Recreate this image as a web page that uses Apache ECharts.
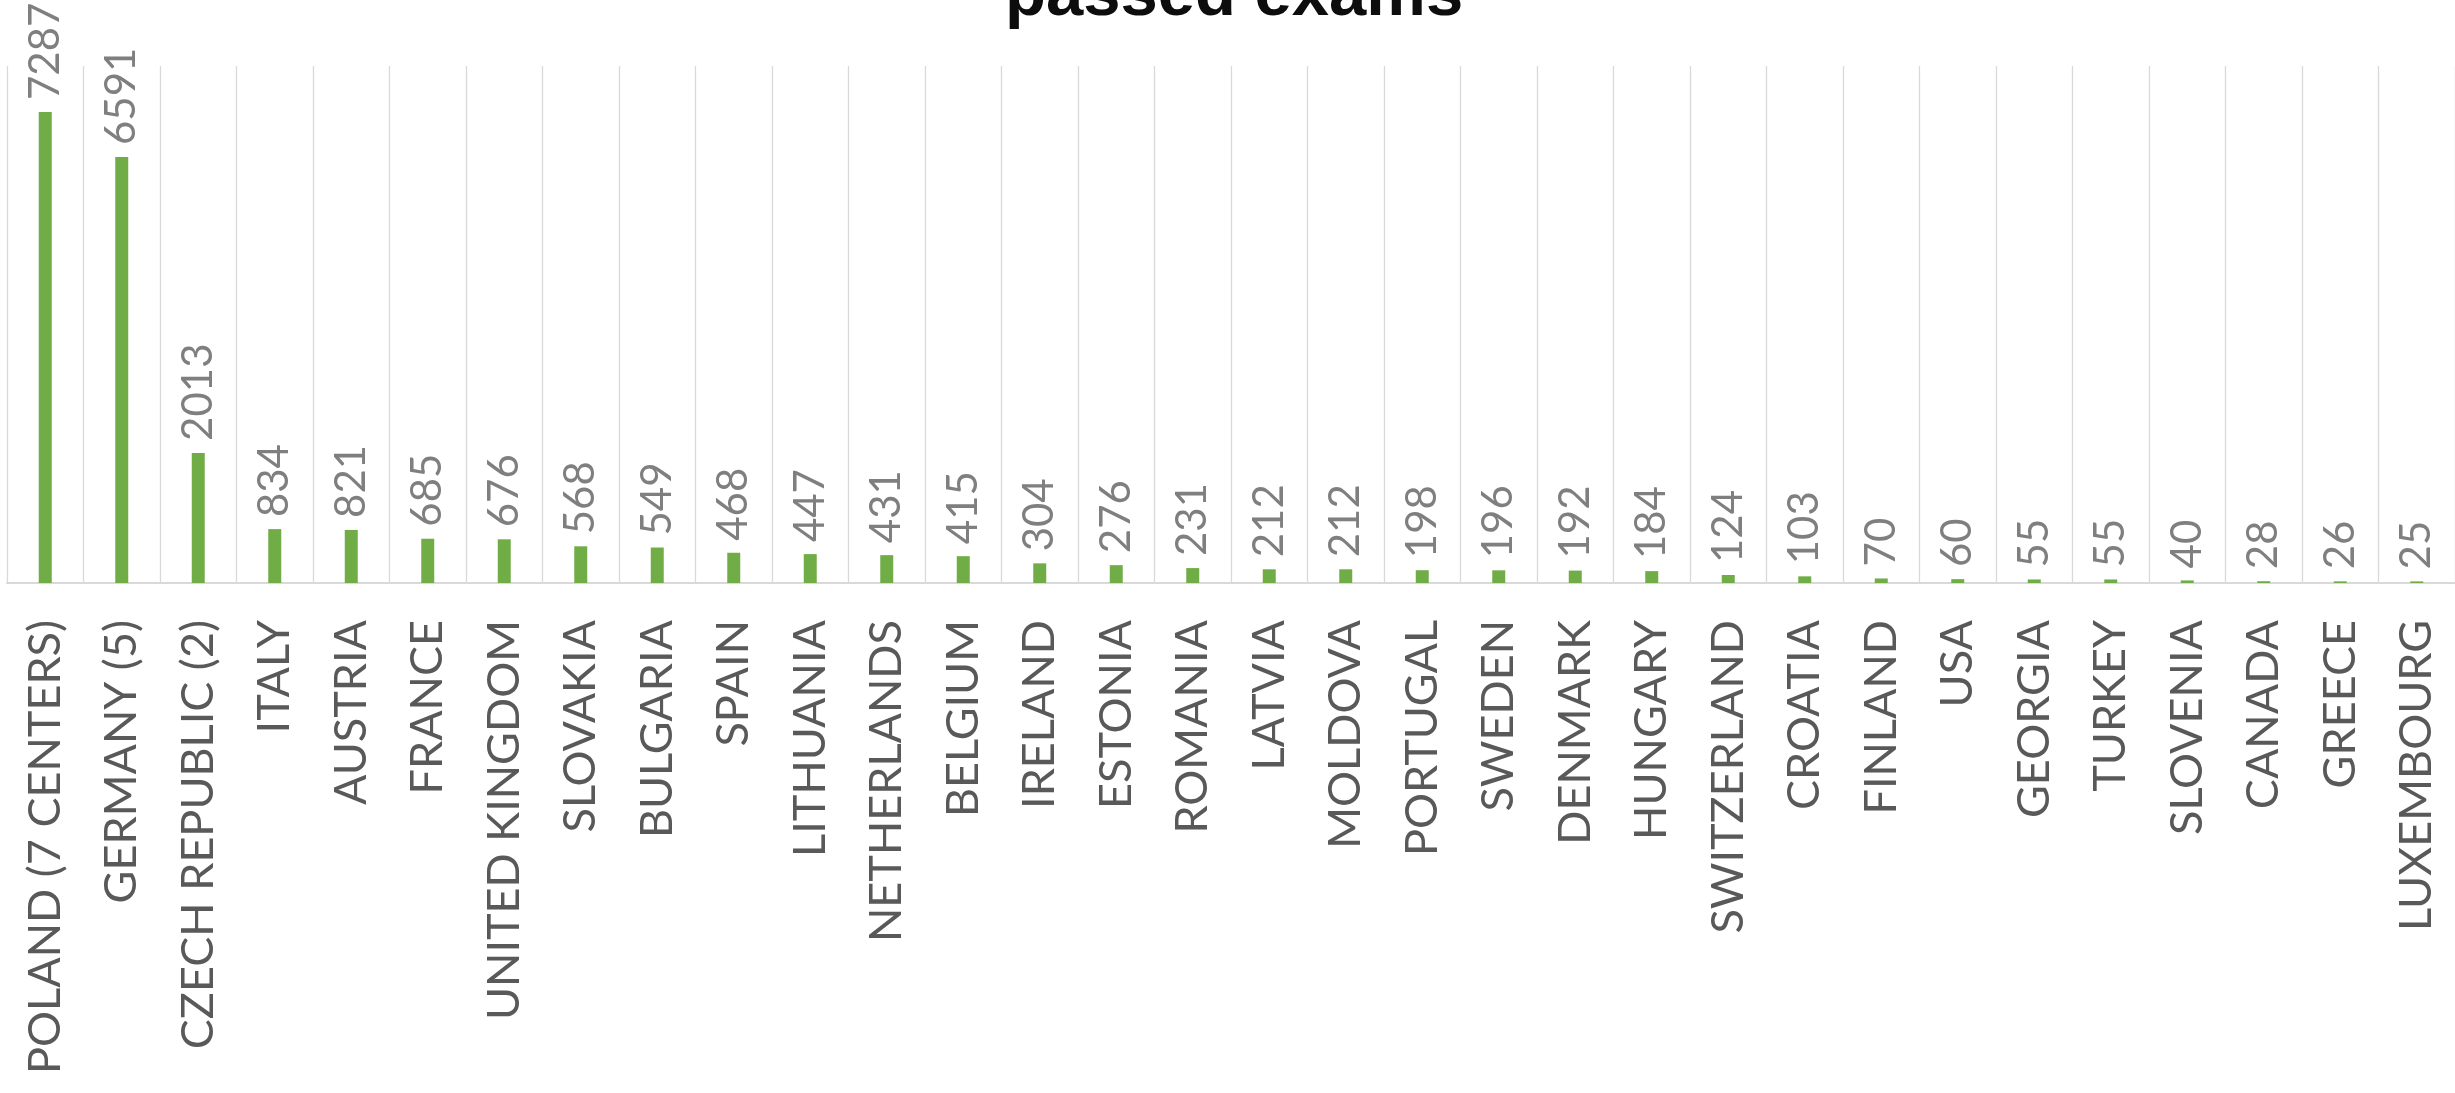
<!DOCTYPE html>
<html>
<head>
<meta charset="utf-8">
<script src="https://cdn.jsdelivr.net/npm/echarts@6/dist/echarts.min.js"></script>
<style>
html,body{margin:0;padding:0;background:#fff;}
#chart{width:2455px;height:1093px;}
</style>
</head>
<body>
<div id="chart"></div>
<script>
var titleText = 'passed exams';
var countries = ['POLAND (7 CENTERS)','GERMANY (5)','CZECH REPUBLIC (2)','ITALY','AUSTRIA','FRANCE','UNITED KINGDOM','SLOVAKIA','BULGARIA','SPAIN','LITHUANIA','NETHERLANDS','BELGIUM','IRELAND','ESTONIA','ROMANIA','LATVIA','MOLDOVA','PORTUGAL','SWEDEN','DENMARK','HUNGARY','SWITZERLAND','CROATIA','FINLAND','USA','GEORGIA','TURKEY','SLOVENIA','CANADA','GREECE','LUXEMBOURG'];
var passedExams = [7287,6591,2013,834,821,685,676,568,549,468,447,431,415,304,276,231,212,212,198,196,192,184,124,103,70,60,55,55,40,28,26,25];

var chart = echarts.init(document.getElementById('chart'), null, {renderer:'canvas'});
chart.setOption({
  animation: false,
  backgroundColor: '#ffffff',
  title: {
    text: titleText,
    left: 1005,
    top: -37,
    padding: 0,
    textStyle: {fontFamily: '"Liberation Sans", Arial, sans-serif', fontWeight: 'bold', fontSize: 67, color: '#0d0d0d'}
  },
  grid: {left: 7, top: 66, width: 2456, height: 517, containLabel: false},
  xAxis: {
    type: 'category',
    data: countries,
    boundaryGap: true,
    axisLine: {show: true, lineStyle: {color: '#d9d9d9', width: 2}},
    axisTick: {show: false},
    splitLine: {show: true, interval: 0, lineStyle: {color: '#d9d9d9', width: 1.3}},
    axisLabel: {
      interval: 0,
      rotate: 90,
      margin: 37,
      color: '#595959',
      fontFamily: 'Lato, sans-serif',
      fontSize: 45
    }
  },
  yAxis: {
    type: 'value',
    min: 0,
    max: 8000,
    show: false,
    splitLine: {show: false}
  },
  series: [{
    type: 'bar',
    data: passedExams,
    barWidth: 13,
    itemStyle: {color: '#70ad47'},
    label: {
      show: true,
      position: 'top',
      distance: 12,
      rotate: 90,
      align: 'left',
      verticalAlign: 'middle',
      color: '#7f7f7f',
      fontFamily: 'Lato, sans-serif',
      fontSize: 42
    }
  }]
});
</script>
</body>
</html>
